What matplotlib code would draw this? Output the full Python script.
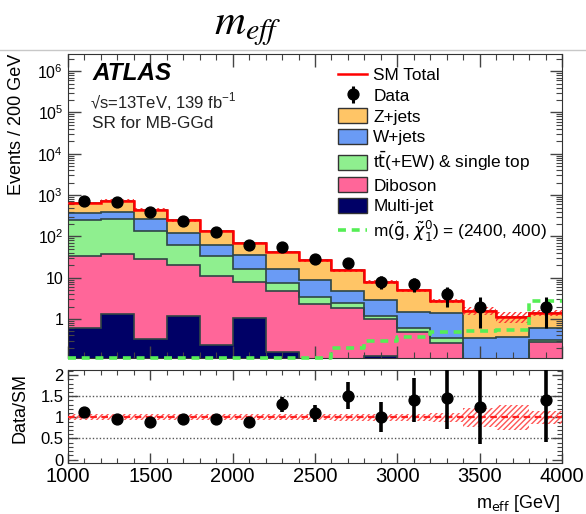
import numpy as np
import matplotlib
matplotlib.use("Agg")
import matplotlib.pyplot as plt
from matplotlib.lines import Line2D
from matplotlib.patches import Patch
from matplotlib.ticker import MultipleLocator, LogLocator, FixedLocator, NullFormatter

plt.rcParams['font.family'] = ['Liberation Sans', 'DejaVu Sans']
plt.rcParams['hatch.linewidth'] = 1.0

# ---------------- data ----------------
bin_edges = [1000, 1200, 1400, 1600, 1800, 2000, 2200, 2400, 2600, 2800,
             3000, 3200, 3400, 3600, 3800, 4000]
multijet = [0.6, 1.3, 0.33, 1.2, 0.24, 1.04, 0.16, 0, 0, 0.125, 0, 0, 0, 0, 0]
diboson = [32.4, 36.7, 27.7, 18.8, 10.8, 6.9, 4.5, 2.3, 1.9, 0.9, 0.48, 0.26, 0.05, 0.05, 0.28]
ttbar = [210, 219, 106, 41, 22, 8.1, 3.0, 1.1, 0.5, 0.14, 0.14, 0.08, 0.01, 0.01, 0.03]
wjets = [129, 143, 134, 59, 28, 19, 8.9, 5.3, 2.3, 1.8, 0.88, 1.03, 0.28, 0.31, 0.29]
zjets = [278, 335, 179, 123, 73, 35, 25.4, 17.8, 10.5, 4.9, 3.5, 1.38, 1.26, 0.77, 0.82]
data = [728, 698, 398, 236, 129, 62, 55, 29, 23, 8, 7, 4, 2, 0, 2]
data_err = [27, 26, 20, 15, 11, 8, 7.4, 5.4, 4.8, 2.8, 2.6, 2.0, 1.4, 0, 1.4]
signal = [0, 0, 0, 0, 0, 0, 0, 0, 0.2, 0.3, 0.37, 0.48, 0.52, 0.55, 2.7]
mc_rel_unc = [0.07, 0.07, 0.07, 0.07, 0.07, 0.07, 0.07, 0.07, 0.08, 0.09, 0.09, 0.10, 0.22, 0.30, 0.15]

labels = ['Multi-jet', 'Diboson', r't$\bar{\rm t}$(+EW) & single top', 'W+jets', 'Z+jets']
colors = ['#000066', '#FF6699', '#8FEF8F', '#6A9BF5', '#FFC566']
outline = '#2f4545'

edges = np.array(bin_edges, dtype=float)
centers = 0.5 * (edges[:-1] + edges[1:])
stack = [np.array(a, dtype=float) for a in (multijet, diboson, ttbar, wjets, zjets)]
total = np.sum(stack, axis=0)
data = np.array(data, dtype=float)
data_err = np.array(data_err, dtype=float)
unc = np.array(mc_rel_unc)

W, H = 586, 514
fig = plt.figure(figsize=(W / 100, H / 100), dpi=100)
L, R = 68, 562
ax = fig.add_axes([L / W, 1 - 358 / H, (R - L) / W, (358 - 54) / H])
rax = fig.add_axes([L / W, 1 - 463 / H, (R - L) / W, (463 - 370) / H])

ymin, ymax = 0.114, 2.6e6

# stacked histogram
cum = np.full(len(centers), 1e-3)
for vals, col in zip(stack, colors):
    top = cum + vals
    ax.stairs(top, edges, baseline=cum, fill=True, color=col, lw=0, zorder=1)
    ax.stairs(top, edges, baseline=None, color=outline, lw=1.2, zorder=2)
    cum = top

# MC uncertainty hatch
lo = np.append(total * (1 - unc), total[-1] * (1 - unc[-1]))
hi = np.append(total * (1 + unc), total[-1] * (1 + unc[-1]))
ax.fill_between(edges, lo, hi, step='post', facecolor='none', edgecolor='#FF3333',
                hatch='//////', lw=0, zorder=3)
ax.stairs(total, edges, baseline=None, color='#FF0000', lw=1.8, zorder=4)

# signal
sig = np.clip(np.array(signal), ymin, None)
sig_ext = np.append(sig, sig[-1])
ax.step(edges, sig_ext, where='post', color='#55EE55', lw=2.6, ls=(0, (2.2, 1.6)),
        zorder=5, clip_on=False)

# data
m = data > 0
deb = ax.errorbar(centers[m], data[m], yerr=data_err[m], fmt='o', color='black', ms=7.8,
                  elinewidth=2.2, capsize=0, zorder=6)

ax.set_yscale('log')
ax.set_xlim(edges[0], edges[-1])
ax.set_ylim(ymin, ymax)
ax.yaxis.set_major_locator(FixedLocator([1, 10, 100, 1e3, 1e4, 1e5, 1e6]))
ax.set_yticklabels(['1', '10', r'$\mathregular{10^{2}}$', r'$\mathregular{10^{3}}$',
                    r'$\mathregular{10^{4}}$', r'$\mathregular{10^{5}}$', r'$\mathregular{10^{6}}$'],
                   fontsize=11.5)
ax.yaxis.set_minor_locator(LogLocator(base=10, subs=np.arange(2, 10), numticks=20))
ax.yaxis.set_minor_formatter(NullFormatter())
ax.xaxis.set_major_locator(MultipleLocator(500))
ax.xaxis.set_minor_locator(MultipleLocator(100))
ax.tick_params(axis='x', labelbottom=False)
ax.tick_params(which='both', direction='in', top=True, right=True, color='#444444')
ax.tick_params(which='major', length=9, width=1)
ax.tick_params(which='minor', length=4.5, width=0.8)
for s in ax.spines.values():
    s.set_color('#333333')

# texts
fig.text(92 / W, 1 - 74 / H, 'ATLAS', fontsize=17.5, fontweight='bold', fontstyle='italic',
         va='center', ha='left')
fig.text(90 / W, 1 - 102 / H, '\u221As=13TeV, 139 fb$^{\\mathregular{-1}}$', fontsize=12,
         va='center', ha='left', color='#222222')
fig.text(92 / W, 1 - 124 / H, 'SR for MB-GGd', fontsize=12.4, va='center', ha='left',
         color='#222222')

# legend
handles = [Line2D([], [], color='#FF0000', lw=1.8), deb]
for col, lab in zip(colors[::-1], labels[::-1]):
    handles.append(Patch(facecolor=col, edgecolor='#333333', lw=1))
handles.append(Line2D([], [], color='#55EE55', lw=2.6, ls=(0, (2.2, 1.6))))
leg_labels = ['SM Total', 'Data'] + labels[::-1] + [r'm($\tilde{\rm g}$, $\tilde{\chi}_1^0$) = (2400, 400)']
fig.legend(handles, leg_labels, loc='upper left', bbox_to_anchor=(338 / W, 1 - 67 / H),
           bbox_transform=fig.transFigure, frameon=False, fontsize=12.4,
           handlelength=1.7, handleheight=0.95, handletextpad=0.35, labelspacing=0.25,
           borderpad=0, borderaxespad=0)

fig.text(17 / W, 1 - 124 / H, 'Events / 200 GeV', rotation=90, fontsize=13,
         va='center', ha='center')

# ---------------- ratio ----------------
rlo = np.append(1 - unc, 1 - unc[-1])
rhi = np.append(1 + unc, 1 + unc[-1])
rax.fill_between(edges, rlo, rhi, step='post', facecolor='none', edgecolor='#FF5555',
                 hatch='//////', lw=0, zorder=2)
rax.axhline(1, color='#FF2222', lw=1.6, ls=(0, (3, 2)), zorder=3)
for yv in (0.5, 1.5):
    rax.axhline(yv, color='#555555', lw=1, ls=(0, (1, 1.5)), zorder=1)
ratio = data[m] / total[m]
rerr = data_err[m] / total[m]
rax.errorbar(centers[m], ratio, yerr=rerr, fmt='o', color='black', ms=7.8,
             elinewidth=2.6, capsize=0, zorder=5)
rax.set_xlim(edges[0], edges[-1])
rax.set_ylim(-0.08, 2.12)
rax.yaxis.set_major_locator(FixedLocator([0, 0.5, 1, 1.5, 2]))
rax.set_yticklabels(['0', '0.5', '1', '1.5', '2'], fontsize=12)
rax.yaxis.set_minor_locator(MultipleLocator(0.1))
rax.xaxis.set_major_locator(MultipleLocator(500))
rax.xaxis.set_minor_locator(MultipleLocator(100))
rax.set_xticklabels([str(int(v)) for v in rax.get_xticks()], fontsize=14.5)
rax.tick_params(which='both', direction='in', top=True, right=True, color='#444444')
rax.tick_params(which='major', length=7, width=1, pad=3)
rax.tick_params(which='minor', length=3.5, width=0.8)
for s in rax.spines.values():
    s.set_color('#333333')
fig.text(20 / W, 1 - 408 / H, 'Data/SM', rotation=90, fontsize=13, va='center', ha='center')
fig.text(560 / W, 1 - 504 / H, r'm$_{\rm eff}$ [GeV]', fontsize=13, ha='right', va='center')

# title and image border
fig.text(248 / W, 1 - 28 / H, r'$m_{eff}$', fontsize=31, ha='center', va='center',
         math_fontfamily='stix')
fig.add_artist(Line2D([0, 1], [1 - 50 / H, 1 - 50 / H], color='#c8c8c8', lw=1,
                      transform=fig.transFigure))

fig.savefig('out.png', dpi=100)
